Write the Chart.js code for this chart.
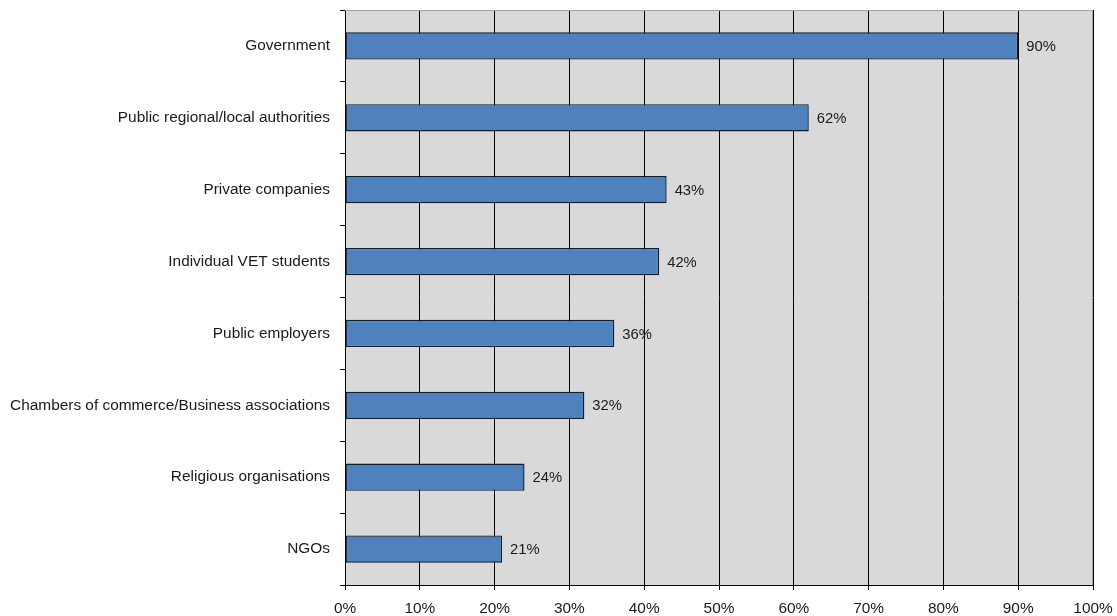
<!DOCTYPE html>
<html>
<head>
<meta charset="utf-8">
<script src="https://cdn.jsdelivr.net/npm/chart.js@4"></script>
<style>
  html, body { margin: 0; padding: 0; background: #fff; }
  #wrap { width: 1117px; height: 616px; position: relative; }
</style>
</head>
<body>
<div id="wrap"><canvas id="myChart"></canvas></div>
<script>
const categories = [
  'Government',
  'Public regional/local authorities',
  'Private companies',
  'Individual VET students',
  'Public employers',
  'Chambers of commerce/Business associations',
  'Religious organisations',
  'NGOs',
];
const shares = [90, 62, 43, 42, 36, 32, 24, 21];
const xTicks = [0, 10, 20, 30, 40, 50, 60, 70, 80, 90, 100];

const FONT = { family: 'Liberation Sans, Arial, sans-serif', size: 15.4 };

// grey plot background plus the light frame on top and right
const plotFrame = {
  id: 'plotFrame',
  beforeDraw(chart) {
    const { ctx, chartArea: a } = chart;
    ctx.save();
    ctx.fillStyle = '#d9d9d9';
    ctx.fillRect(a.left, a.top, a.right - a.left, a.bottom - a.top);
    ctx.restore();
  },
  afterDraw(chart) {
    const { ctx, chartArea: a } = chart;
    ctx.save();
    ctx.strokeStyle = '#a6a6a6';
    ctx.lineWidth = 1;
    ctx.beginPath();
    ctx.moveTo(a.left, a.top + 0.5);
    ctx.lineTo(a.right - 0.5, a.top + 0.5);
    ctx.lineTo(a.right - 0.5, a.bottom);
    ctx.stroke();
    ctx.restore();
  },
};

// value labels to the right of each bar
const valueLabels = {
  id: 'valueLabels',
  afterDatasetsDraw(chart) {
    const { ctx } = chart;
    const meta = chart.getDatasetMeta(0);
    ctx.save();
    ctx.font = `14.8px ${FONT.family}`;
    ctx.fillStyle = '#1a1a1a';
    ctx.textAlign = 'left';
    ctx.textBaseline = 'middle';
    meta.data.forEach((bar, i) => {
      ctx.fillText(shares[i] + '%', bar.x + 8, bar.y + 1);
    });
    ctx.restore();
  },
};

const ctx = document.getElementById('myChart').getContext('2d');

const chart = new Chart(ctx, {
  type: 'bar',
  data: {
    labels: categories,
    datasets: [{
      data: shares,
      backgroundColor: '#4f81bd',
      borderColor: '#0f1b2e',
      borderWidth: 1.4,
      borderSkipped: false,
      categoryPercentage: 1,
      barPercentage: 0.38,
    }],
  },
  options: {
    indexAxis: 'y',
    responsive: true,
    maintainAspectRatio: false,
    animation: false,
    layout: { padding: { top: 10, right: 24, bottom: 0, left: 0 } },
    plugins: {
      legend: { display: false },
      tooltip: { enabled: false },
    },
    scales: {
      x: {
        min: 0,
        max: 100,
        afterBuildTicks(scale) {
          scale.ticks = xTicks.map((v) => ({ value: v }));
        },
        afterFit(scale) {
          scale.height = 31;
          scale.paddingLeft = 0;
          scale.paddingRight = 0;
        },
        ticks: {
          callback: (v) => v + '%',
          color: '#1a1a1a',
          font: FONT,
          padding: 10,
          maxRotation: 0,
        },
        grid: {
          color: '#000',
          lineWidth: 1,
          tickLength: 5,
          tickColor: '#000',
        },
        border: { color: '#000', width: 1 },
      },
      y: {
        afterFit(scale) {
          scale.width = 345;
          scale.paddingTop = 0;
          scale.paddingBottom = 0;
        },
        ticks: {
          color: '#1a1a1a',
          font: FONT,
          padding: 10,
        },
        grid: {
          offset: true,
          drawOnChartArea: false,
          tickLength: 5,
          tickColor: '#000',
        },
        border: { color: '#000', width: 1 },
      },
    },
  },
  plugins: [plotFrame, valueLabels],
});
</script>
</body>
</html>
